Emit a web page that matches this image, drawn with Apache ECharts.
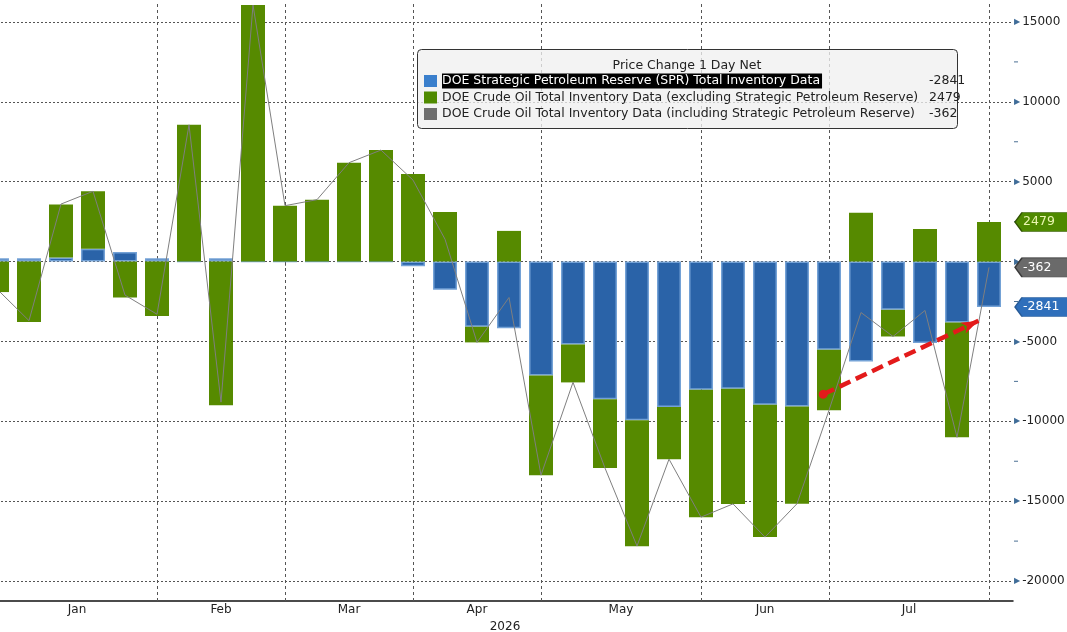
<!DOCTYPE html>
<html><head><meta charset="utf-8">
<script src="https://cdn.jsdelivr.net/npm/echarts@6/dist/echarts.min.js"></script>
<style>html,body{margin:0;padding:0;background:#fff}#c{width:1067px;height:632px}</style>
</head><body><div id="c"></div>
<script>
// ---- data (weekly, thousand barrels) ----
const weeks = ['2026-01-02','2026-01-09','2026-01-16','2026-01-23','2026-01-30',
  '2026-02-06','2026-02-13','2026-02-20','2026-02-27',
  '2026-03-06','2026-03-13','2026-03-20','2026-03-27',
  '2026-04-03','2026-04-10','2026-04-17','2026-04-24',
  '2026-05-01','2026-05-08','2026-05-15','2026-05-22','2026-05-29',
  '2026-06-05','2026-06-12','2026-06-19','2026-06-26',
  '2026-07-03','2026-07-10','2026-07-17','2026-07-24','2026-07-31',
  '2026-08-07'];
const sprChange = [200, 200, 250, 800, 600, 200, 0, 200, 0, 0, 0, 0, 0,
  -300, -1770, -4080, -4170, -7140, -5190, -8620, -9940, -9100, -8020, -7960,
  -8960, -9080, -5520, -6250, -3020, -5100, -3810, -2841];
const crudeExSpr = [-1910, -3790, 3330, 3600, -2250, -3410, 8560, -9000, 16060, 3500,
  3875, 6190, 6980, 5480, 3100, -980, 1920, -6230, -2375, -4310, -7875, -3270,
  -7980, -7210, -8290, -6080, -3790, 3060, -1670, 2040, -7190, 2479];
const crudeInclSpr = [-1720, -3700, 3600, 4400, -2100, -3300, 8560, -8800, 16060, 3500,
  3875, 6190, 6980, 5100, 1400, -5060, -2250, -13370, -7560, -12930, -17810, -12370,
  -16000, -15170, -17250, -15160, -9310, -3190, -4690, -3060, -11000, -362];
const monthNames = ['Jan','Feb','Mar','Apr','May','Jun','Jul'];
const yTickLabels = [-20000, -15000, -10000, -5000, 5000, 10000, 15000];
const yearLabel = '2026';
const arrowFrom = [25.82, -8310];
const arrowTo = [30.67, -3710];

const NAME_SPR = 'DOE Strategic Petroleum Reserve (SPR) Total Inventory Data';
const NAME_EX = 'DOE Crude Oil Total Inventory Data (excluding Strategic Petroleum Reserve)';
const NAME_IN = 'DOE Crude Oil Total Inventory Data (including Strategic Petroleum Reserve)';

// ---- derived layout helpers ----
const monthStarts = [];
weeks.forEach((d, i) => { if (i === 0 || d.slice(5,7) !== weeks[i-1].slice(5,7)) monthStarts.push(i); });
const monthMids = monthNames.map((m, j) => (monthStarts[j] + monthStarts[j+1]) / 2);
const X_MIN = 0, X_MAX = 31.75;
const Y_MIN = -21250, Y_MAX = 16250;
const FONT = 'DejaVu Sans';
const last = a => a[a.length - 1];

const tagPath = 'path://M0,9.5 L7,0 L60,0 L60,19 L7,19 Z';
function tag(value, fill, stroke, txt) {
  return {
    coord: [X_MAX, value], value: value,
    symbol: tagPath, symbolSize: [60, 19], symbolOffset: [32, 0],
    itemStyle: { color: fill, borderColor: stroke, borderWidth: 1 },
    label: { show: true, position: [9, 10], align: 'left', verticalAlign: 'middle',
      color: txt, fontFamily: FONT, fontSize: 12.5, formatter: String(value) }
  };
}

const chart = echarts.init(document.getElementById('c'), null, { renderer: 'canvas' });
chart.setOption({
  animation: false,
  backgroundColor: '#ffffff',
  grid: [
    { left: -3, top: 2, width: 1016, height: 599, containLabel: false, outerBoundsMode: 'none' },
    { left: -19, top: 2, width: 1024, height: 599, containLabel: false, outerBoundsMode: 'none' }
  ],
  xAxis: [
    {
      gridIndex: 0, type: 'value', min: X_MIN, max: X_MAX, interval: 0.5,
      axisLine: { show: true, onZero: false, lineStyle: { color: '#111', width: 1.5 } },
      axisTick: { show: false },
      splitLine: { show: false },
      axisLabel: {
        margin: 3, color: '#222', fontFamily: FONT, fontSize: 12,
        formatter: v => { const j = monthMids.findIndex(m => Math.abs(m - v) < 1e-6); return j >= 0 ? monthNames[j] : ''; }
      },
      name: yearLabel, nameLocation: 'middle', nameGap: 18,
      nameTextStyle: { color: '#222', fontFamily: FONT, fontSize: 12 }
    },
    {
      gridIndex: 1, type: 'category', data: weeks, boundaryGap: true, show: true,
      axisLine: { show: false }, axisLabel: { show: false }, splitLine: { show: false },
      axisTick: { show: true, alignWithLabel: true, length: 4,
        interval: (idx) => idx > 0 && monthStarts.indexOf(idx) >= 0,
        lineStyle: { color: '#222', width: 1 } }
    }
  ],
  yAxis: [
    {
      gridIndex: 0, type: 'value', position: 'right', min: Y_MIN, max: Y_MAX, interval: 1250,
      axisLine: { show: true, lineStyle: { color: '#4a6f93', width: 1 } },
      axisTick: { show: false },
      splitLine: { show: true, lineStyle: {
        color: ['rgba(0,0,0,0)', '#555', 'rgba(0,0,0,0)', 'rgba(0,0,0,0)'], type: [2, 2], width: 1 } },
      axisLabel: {
        margin: 1, fontFamily: FONT,
        formatter: v => {
          if (yTickLabels.indexOf(v) >= 0) return '{a|▶}{t|' + v + '}';
          if (v === 0) return '{a|▶}';
          if (Math.abs(v % 5000) === 2500) return '{m| }';
          return '';
        },
        rich: {
          a: { fontSize: 8, color: '#3f6c98', fontFamily: FONT, padding: [0, 2, 0, 0] },
          t: { fontSize: 12, color: '#222', fontFamily: FONT },
          m: { fontSize: 1, width: 4, height: 1, backgroundColor: '#4a6f93' }
        }
      }
    },
    {
      gridIndex: 1, type: 'value', min: Y_MIN, max: Y_MAX, show: false, splitLine: { show: false }
    }
  ],
  legend: {
    orient: 'vertical', left: 424, top: 72.75, padding: 0, itemGap: 0,
    itemWidth: 13, itemHeight: 12, selectedMode: false, z: 6,
    data: [
      { name: NAME_SPR, icon: 'rect', itemStyle: { color: '#3a7fcc', borderWidth: 0 } },
      { name: NAME_EX, icon: 'rect', itemStyle: { color: '#4f8a00', borderWidth: 0 } },
      { name: NAME_IN, icon: 'rect', itemStyle: { color: '#6e6e6e', borderWidth: 0 } }
    ],
    formatter: n => n === NAME_SPR ? '{hl|' + n + '}' : '{nm|' + n + '}',
    textStyle: {
      fontFamily: FONT, fontSize: 12.5, color: '#222', lineHeight: 16.5,
      rich: {
        hl: { fontFamily: FONT, fontSize: 12.5, color: '#fff', backgroundColor: '#000', height: 15, lineHeight: 16.5, padding: [0, 2, 0, 0] },
        nm: { fontFamily: FONT, fontSize: 12.5, color: '#222', lineHeight: 16.5 }
      }
    }
  },
  graphic: [
    { type: 'rect', left: 417, top: 49, z: 3, silent: true,
      shape: { width: 540, height: 79, r: 4 },
      style: { fill: 'rgba(240,240,240,0.78)', stroke: '#333', lineWidth: 1 } },
    { type: 'text', x: 687, y: 66, z: 6, silent: true,
      style: { text: 'Price Change 1 Day Net', fontFamily: FONT, fontSize: 12.5, fill: '#222', align: 'center', verticalAlign: 'middle' } },
    { type: 'text', x: 929, y: 72.75, z: 6, silent: true,
      style: { text: [last(sprChange), last(crudeExSpr), last(crudeInclSpr)].join('\n'),
        fontFamily: FONT, fontSize: 12.5, lineHeight: 16.5, fill: '#222', align: 'left', verticalAlign: 'top' } }
  ],
  series: [
    {
      name: NAME_SPR, type: 'bar', xAxisIndex: 1, yAxisIndex: 1,
      stack: 'inv', stackStrategy: 'samesign', barWidth: 24,
      data: sprChange,
      itemStyle: { color: '#2a63a8', borderColor: '#74a2d6', borderWidth: 1.5 },
      markLine: {
        silent: true, z: 1, symbol: 'none', animation: false,
        label: { show: false },
        lineStyle: { color: '#555', type: [3, 3], width: 1 },
        data: monthStarts.slice(1).map(i => ({ xAxis: weeks[i] }))
      }
    },
    {
      name: NAME_EX, type: 'bar', xAxisIndex: 1, yAxisIndex: 1,
      stack: 'inv', stackStrategy: 'samesign', barWidth: 24,
      data: crudeExSpr,
      itemStyle: { color: '#568a00' }
    },
    {
      name: NAME_IN, type: 'line', xAxisIndex: 0, yAxisIndex: 0, z: 4, clip: false,
      data: crudeInclSpr.map((v, i) => [i, v]),
      symbol: 'none', lineStyle: { color: '#7f7f7f', width: 1 }, itemStyle: { color: '#6e6e6e' },
      markLine: {
        silent: true, z: 10, animation: false,
        symbol: ['circle', 'arrow'], symbolSize: [9, 17],
        label: { show: false },
        lineStyle: { color: '#e31b1b', type: [12, 6], width: 4.5 },
        itemStyle: { color: '#e31b1b' },
        data: [[{ coord: arrowFrom }, { coord: arrowTo }]]
      },
      markPoint: {
        silent: true, z: 12, animation: false,
        data: [
          tag(last(crudeExSpr), '#4f8a00', '#2f5200', '#eaf6b0'),
          tag(last(crudeInclSpr), '#6a6a6a', '#3a3a3a', '#ffffff'),
          tag(last(sprChange), '#2f6fbb', '#275a96', '#ffffff')
        ]
      }
    }
  ]
});
</script></body></html>
